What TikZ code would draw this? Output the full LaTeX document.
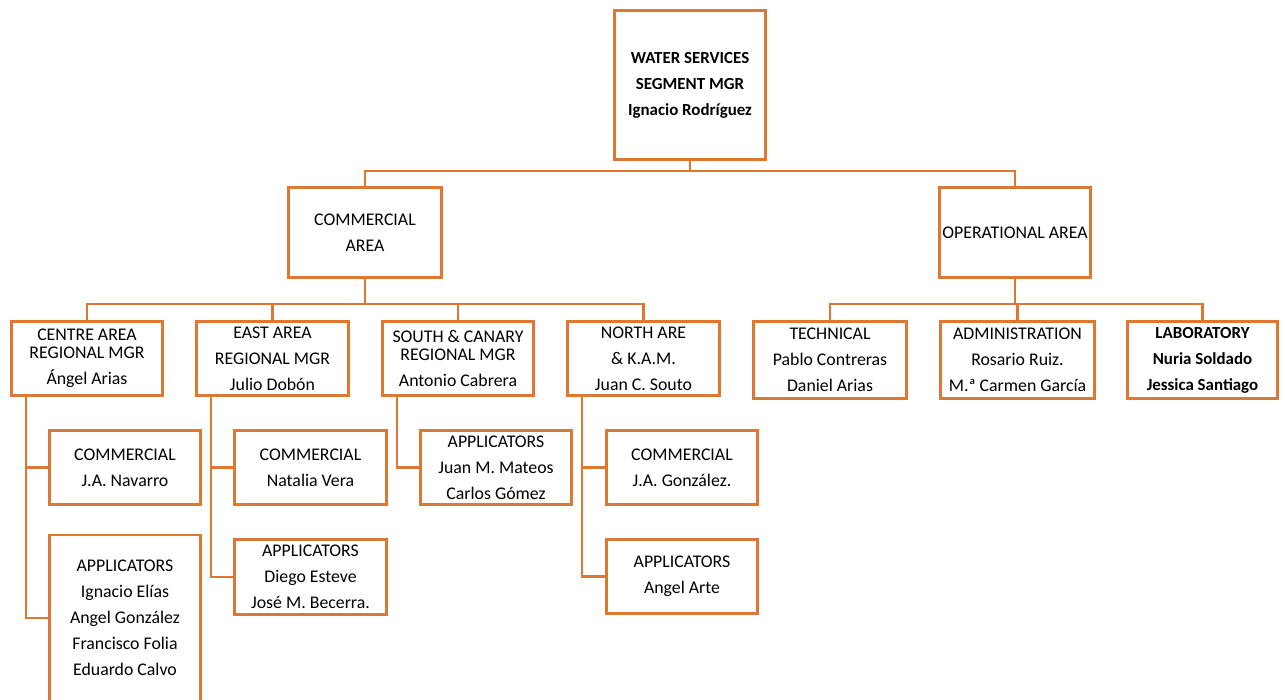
\documentclass[tikz,border=0pt]{standalone}
\usepackage{fontspec}
\setmainfont{Carlito}
\definecolor{org}{HTML}{DE7732}
\begin{document}
\begin{tikzpicture}[x=1pt,y=-1pt,
  box/.style={draw=org,line width=2.6pt,fill=white,inner sep=0pt,align=center,
    font=\fontsize{17.8}{26}\selectfont,text=black,minimum width=151,minimum height=74},
  boldtext/.style={font=\bfseries\fontsize{16.9}{26}\selectfont},
  conn/.style={draw=org,line width=2.4pt}]
\clip (0,0) rectangle (1285,699);
\fill[white] (0,0) rectangle (1285,699);
% level 1
\node[box,boldtext,minimum height=149] (top) at (690,85) {WATER SERVICES\\SEGMENT MGR\\Ignacio Rodríguez};
% level 2
\node[box,minimum width=153,minimum height=90] (ca) at (365,232.5) {COMMERCIAL\\AREA};
\node[box,minimum height=90] (oa) at (1015,232.5) {OPERATIONAL AREA};
% level 3 commercial
\node[box] (centre) at (87,358.5) {CENTRE AREA\\[-8pt]REGIONAL MGR\\Ángel Arias};
\node[box,minimum width=152] (east) at (272.5,358.5) {EAST AREA\\REGIONAL MGR\\Julio Dobón};
\node[box] (south) at (458,358.5) {SOUTH \& CANARY\\[-8pt]REGIONAL MGR\\Antonio Cabrera};
\node[box,minimum width=152] (north) at (643.5,358.5) {NORTH ARE\\\& K.A.M.\\Juan C. Souto};
% level 3 operational
\node[box,minimum width=153,minimum height=77] (tech) at (830,360) {TECHNICAL\\Pablo Contreras\\Daniel Arias};
\node[box,minimum width=154,minimum height=77] (admin) at (1017.5,360) {ADMINISTRATION\\Rosario Ruiz.\\M.ª Carmen García};
\node[box,boldtext,minimum width=150,minimum height=77] (lab) at (1202.5,360) {LABORATORY\\Nuria Soldado\\Jessica Santiago};
% level 4
\node[box] (ccom) at (125,467.5) {COMMERCIAL\\J.A. Navarro};
\node[box,minimum height=166] (capp) at (125,618) {APPLICATORS\\Ignacio Elías\\Angel González\\Francisco Folia\\Eduardo Calvo};
\node[box,minimum width=152] (ecom) at (310.5,467.5) {COMMERCIAL\\Natalia Vera};
\node[box,minimum width=152,minimum height=75] (eapp) at (310.5,577) {APPLICATORS\\Diego Esteve\\José M. Becerra.};
\node[box] (sapp) at (496,467.5) {APPLICATORS\\Juan M. Mateos\\Carlos Gómez};
\node[box] (ncom) at (682,467.5) {COMMERCIAL\\J.A. González.};
\node[box] (napp) at (682,576.5) {APPLICATORS\\Angel Arte};
% connectors
\draw[conn] (top.south) -- ++(0,10) -| (ca.north);
\draw[conn] (top.south) -- ++(0,10) -| (oa.north);
\draw[conn] (ca.south) -- ++(0,25) -| (centre.north);
\draw[conn] (ca.south) -- ++(0,25) -| (east.north);
\draw[conn] (ca.south) -- ++(0,25) -| (south.north);
\draw[conn] (ca.south) -- ++(0,25) -| (north.north);
\draw[conn] (oa.south) -- ++(0,25) -| (tech.north);
\draw[conn] (oa.south) -- ++(0,25) -| (admin.north);
\draw[conn] (oa.south) -- ++(0,25) -| (lab.north);
\draw[conn] ([xshift=16pt]centre.south west) |- (ccom.west);
\draw[conn] ([xshift=16pt]centre.south west) |- (capp.west);
\draw[conn] ([xshift=16pt]east.south west) |- (ecom.west);
\draw[conn] ([xshift=16pt]east.south west) |- (eapp.west);
\draw[conn] ([xshift=16pt]south.south west) |- (sapp.west);
\draw[conn] ([xshift=16pt]north.south west) |- (ncom.west);
\draw[conn] ([xshift=16pt]north.south west) |- (napp.west);
\end{tikzpicture}
\end{document}
